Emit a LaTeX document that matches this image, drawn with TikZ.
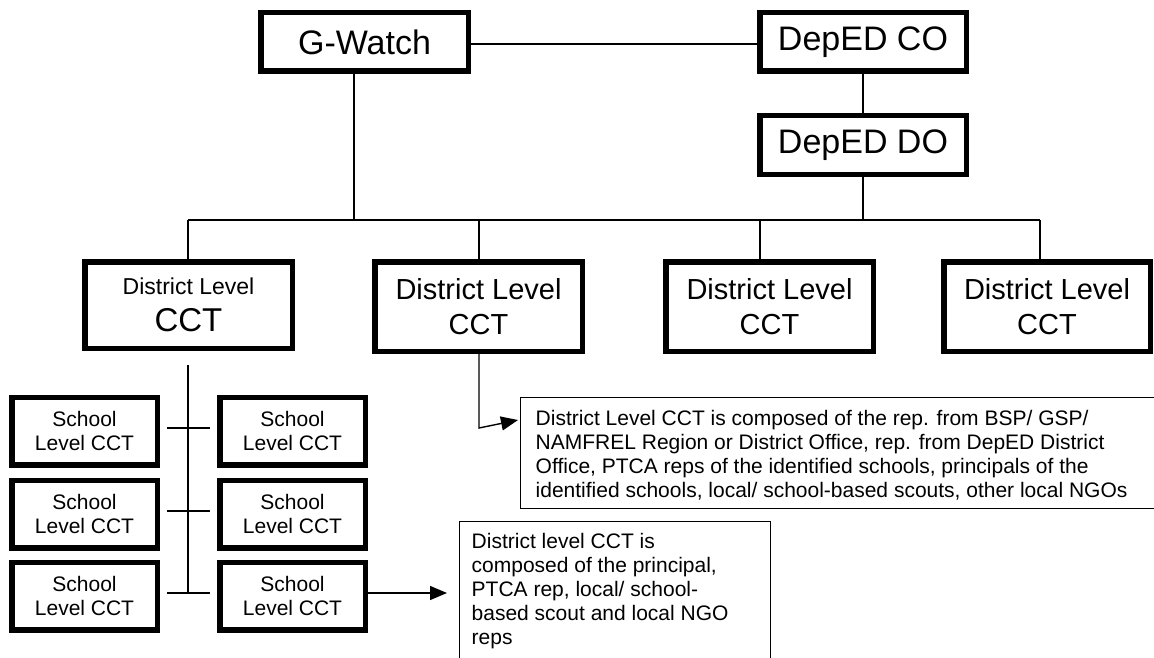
\documentclass[tikz,border=0pt]{standalone}
\usepackage{fontspec}
\setmainfont{Liberation Sans}
\usetikzlibrary{arrows.meta}
\begin{document}
\begin{tikzpicture}[x=1pt,y=-1pt,
  box/.style={draw, line width=5.5pt, inner sep=0pt, align=center},
  topbox/.style={box, minimum width=207.5pt, minimum height=58.5pt, font=\fontsize{34}{40}\selectfont},
  distbox/.style={box, minimum width=207.5pt, minimum height=89.5pt, font=\fontsize{29}{35}\selectfont},
  schoolbox/.style={box, minimum width=145.5pt, minimum height=67.5pt, font=\fontsize{21}{24}\selectfont},
  conn/.style={line width=1.4pt},
  arr/.style={line width=1.4pt, -{Triangle[length=17pt,width=14pt]}},
  note/.style={draw, line width=1.4pt, inner ysep=0pt, anchor=north west}]
\useasboundingbox (0,0) rectangle (1154,658);
\fill[white] (0,0) rectangle (1154,658);

% top level
\node[topbox] (gw) at (364.5,42) {G-Watch};
\node[topbox, minimum width=206.5pt] (co) at (863,42) {DepED CO};
\node[topbox, minimum width=206.5pt] (do) at (863,145) {DepED DO};

% district level
\node[box, minimum width=207.5pt, minimum height=86.5pt, font=\fontsize{33}{37}\selectfont] (d1) at (188.5,305) {{\fontsize{23}{26}\selectfont District Level}\\CCT};
\node[distbox] (d2) at (478.5,306.5) {District Level\\CCT};
\node[distbox] (d3) at (769.5,306.5) {District Level\\CCT};
\node[distbox, minimum width=206.5pt] (d4) at (1047,306.5) {District Level\\CCT};

% school level
\node[schoolbox] (s11) at (84.5,431) {School\\Level CCT};
\node[schoolbox] (s12) at (292.5,431) {School\\Level CCT};
\node[schoolbox] (s21) at (84.5,514) {School\\Level CCT};
\node[schoolbox] (s22) at (292.5,514) {School\\Level CCT};
\node[schoolbox] (s31) at (84.5,596) {School\\Level CCT};
\node[schoolbox] (s32) at (292.5,596) {School\\Level CCT};

% notes
\node[note, inner xsep=15pt] (n1) at (520,397) {\parbox[t][111pt][t]{630pt}{\fontsize{21}{24}\selectfont\rule{0pt}{28pt}District Level CCT is composed of the rep. from BSP/ GSP/\\
NAMFREL Region or District Office, rep. from DepED District\\
Office, PTCA reps of the identified schools, principals of the\\
identified schools, local/ school-based scouts, other local NGOs}};
\node[note, inner xsep=12pt] (n2) at (459,521) {\parbox[t][160pt][t]{287pt}{\fontsize{21}{24}\selectfont\rule{0pt}{27pt}District level CCT is\\
composed of the principal,\\
PTCA rep, local/ school-\\
based scout and local NGO\\
reps}};

% connectors top
\draw[conn] (gw.east |- 0,44) -- (co.west |- 0,44);
\draw[conn] (co) -- (do);
\coordinate (bg) at (354,220);
\coordinate (bd) at (863,220);
\coordinate (b1) at (188,220);
\coordinate (b2) at (479,220);
\coordinate (b3) at (760,220);
\coordinate (b4) at (1040,220);
\draw[conn] (bg |- gw.south) -- (bg);
\draw[conn] (do.south) -- (bd);
\draw[conn] (b1) -- (b4);
\draw[conn] (b1) -- (b1 |- d1.north);
\draw[conn] (b2) -- (b2 |- d2.north);
\draw[conn] (b3) -- (b3 |- d3.north);
\draw[conn] (b4) -- (b4 |- d4.north);

% arrow to note 1
\coordinate (a1) at (479,428);
\coordinate (a1t) at (518,420);
\draw[arr] (d2.south -| a1) -- (a1) -- (a1t);

% school tree
\coordinate (vt) at (188,365);
\coordinate (vb) at (188,593);
\draw[conn] (vt) -- (vb);
\coordinate (c1l) at (167,428); \coordinate (c1r) at (210,428);
\coordinate (c2l) at (167,511); \coordinate (c2r) at (210,511);
\coordinate (c3l) at (167,593); \coordinate (c3r) at (210,593);
\draw[conn] (c1l) -- (c1r);
\draw[conn] (c2l) -- (c2r);
\draw[conn] (c3l) -- (c3r);

% arrow to note 2
\coordinate (a2t) at (447,593);
\draw[arr] (s32.east |- a2t) -- (a2t);
\end{tikzpicture}
\end{document}
